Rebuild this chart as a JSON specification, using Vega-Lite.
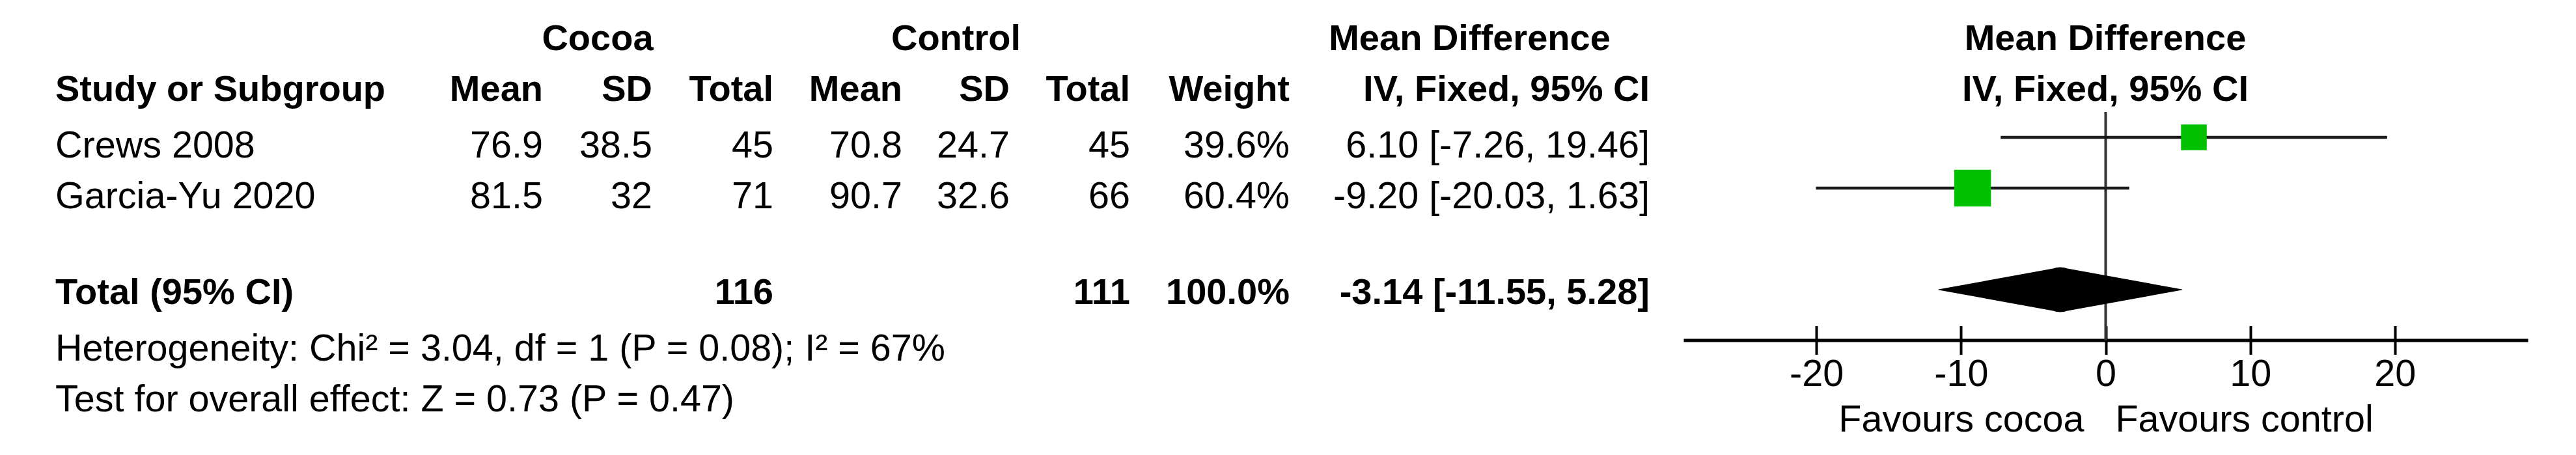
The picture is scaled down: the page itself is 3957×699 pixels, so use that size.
{
  "$schema": "https://vega.github.io/schema/vega-lite/v6.json",
  "width": 3957,
  "height": 699,
  "padding": 0,
  "autosize": {"type": "none"},
  "background": "white",
  "config": {"view": {"stroke": null}, "font": "Liberation Sans"},
  "datasets": {
    "table": [
      {"row": 0, "col": 2.5, "text": "Cocoa"},
      {"row": 0, "col": 5.5, "text": "Control"},
      {"row": 0, "col": 8.5, "text": "Mean Difference"},
      {"row": 0, "col": 10, "text": "Mean Difference"},
      {"row": 1, "col": 1, "text": "Study or Subgroup"},
      {"row": 1, "col": 2, "text": "Mean"},
      {"row": 1, "col": 3, "text": "SD"},
      {"row": 1, "col": 4, "text": "Total"},
      {"row": 1, "col": 5, "text": "Mean"},
      {"row": 1, "col": 6, "text": "SD"},
      {"row": 1, "col": 7, "text": "Total"},
      {"row": 1, "col": 8, "text": "Weight"},
      {"row": 1, "col": 9, "text": "IV, Fixed, 95% CI"},
      {"row": 1, "col": 10, "text": "IV, Fixed, 95% CI"},
      {"row": 2, "col": 1, "text": "Crews 2008"},
      {"row": 2, "col": 2, "text": "76.9"},
      {"row": 2, "col": 3, "text": "38.5"},
      {"row": 2, "col": 4, "text": "45"},
      {"row": 2, "col": 5, "text": "70.8"},
      {"row": 2, "col": 6, "text": "24.7"},
      {"row": 2, "col": 7, "text": "45"},
      {"row": 2, "col": 8, "text": "39.6%"},
      {"row": 2, "col": 9, "text": "6.10 [-7.26, 19.46]"},
      {"row": 3, "col": 1, "text": "Garcia-Yu 2020"},
      {"row": 3, "col": 2, "text": "81.5"},
      {"row": 3, "col": 3, "text": "32"},
      {"row": 3, "col": 4, "text": "71"},
      {"row": 3, "col": 5, "text": "90.7"},
      {"row": 3, "col": 6, "text": "32.6"},
      {"row": 3, "col": 7, "text": "66"},
      {"row": 3, "col": 8, "text": "60.4%"},
      {"row": 3, "col": 9, "text": "-9.20 [-20.03, 1.63]"},
      {"row": 5, "col": 1, "text": "Total (95% CI)"},
      {"row": 5, "col": 4, "text": "116"},
      {"row": 5, "col": 7, "text": "111"},
      {"row": 5, "col": 8, "text": "100.0%"},
      {"row": 5, "col": 9, "text": "-3.14 [-11.55, 5.28]"},
      {"row": 6, "col": 1, "text": "Heterogeneity: Chi² = 3.04, df = 1 (P = 0.08); I² = 67%"},
      {"row": 7, "col": 1, "text": "Test for overall effect: Z = 0.73 (P = 0.47)"}
    ],
    "studies": [
      {"study": "Crews 2008", "row": 2, "est": 6.10, "lo": -7.26, "hi": 19.46, "weight": 39.6},
      {"study": "Garcia-Yu 2020", "row": 3, "est": -9.20, "lo": -20.03, "hi": 1.63, "weight": 60.4}
    ],
    "pooled": [
      {"x": -11.55, "row": 5, "peak": 0},
      {"x": -3.14, "row": 5, "peak": 1},
      {"x": 5.28, "row": 5, "peak": 0}
    ]
  },
  "layer": [
    {
      "data": {"name": "table"},
      "encoding": {
        "x": {
          "field": "col",
          "type": "quantitative",
          "scale": {
            "type": "linear",
            "domain": [0, 1, 2, 3, 4, 5, 6, 7, 8, 9, 10, 11],
            "range": [32, 85, 834, 1002, 1188, 1386, 1551, 1736, 1981, 2534, 3234, 3933],
            "nice": false,
            "zero": false
          },
          "axis": null
        },
        "y": {
          "field": "row",
          "type": "quantitative",
          "scale": {"domain": [0, 8], "range": [55, 679], "nice": false, "zero": false},
          "axis": null
        }
      },
      "layer": [
        {
          "transform": [{"filter": "(datum.row <= 1 || datum.row == 5) && datum.col == 1"}],
          "mark": {"type": "text", "align": "left", "baseline": "alphabetic", "fontWeight": "bold", "fontSize": 56, "dy": 21.5, "color": "black", "font": "Liberation Sans"},
          "encoding": {"text": {"field": "text"}}
        },
        {
          "transform": [{"filter": "(datum.row <= 1 || datum.row == 5) && datum.col >= 2 && datum.col <= 9 && datum.col % 1 == 0"}],
          "mark": {"type": "text", "align": "right", "baseline": "alphabetic", "fontWeight": "bold", "fontSize": 56, "dy": 21.5, "color": "black", "font": "Liberation Sans"},
          "encoding": {"text": {"field": "text"}}
        },
        {
          "transform": [{"filter": "(datum.row <= 1 || datum.row == 5) && (datum.col == 10 || datum.col % 1 != 0)"}],
          "mark": {"type": "text", "align": "center", "baseline": "alphabetic", "fontWeight": "bold", "fontSize": 56, "dy": 21.5, "color": "black", "font": "Liberation Sans"},
          "encoding": {"text": {"field": "text"}}
        },
        {
          "transform": [{"filter": "datum.row > 1 && datum.row != 5 && datum.col == 1"}],
          "mark": {"type": "text", "align": "left", "baseline": "alphabetic", "fontSize": 57.5, "dy": 31, "color": "black", "font": "Liberation Sans"},
          "encoding": {"text": {"field": "text"}}
        },
        {
          "transform": [{"filter": "datum.row > 1 && datum.row != 5 && datum.col > 1"}],
          "mark": {"type": "text", "align": "right", "baseline": "alphabetic", "fontSize": 57.5, "dy": 31, "color": "black", "font": "Liberation Sans"},
          "encoding": {"text": {"field": "text"}}
        },
        {
          "data": {"values": [{}]},
          "mark": {"type": "rule", "color": "black", "strokeWidth": 5},
          "encoding": {
            "x": {"datum": 0, "type": "quantitative"},
            "x2": {"datum": 11},
            "y": {"datum": 1.5, "type": "quantitative"}
          }
        }
      ]
    },
    {
      "layer": [
        {
          "data": {"values": [{}]},
          "mark": {"type": "rule", "color": "#333333", "strokeWidth": 4},
          "encoding": {
            "x": {
              "datum": 0,
              "type": "quantitative",
              "scale": {"domain": [-29.19, 29.19], "range": [2586, 3883], "nice": false, "zero": false},
              "axis": {
                "orient": "bottom",
                "offset": -198.5,
                "values": [-20, -10, 0, 10, 20],
                "domain": false,
                "ticks": true,
                "tickColor": "black",
                "tickWidth": 4,
                "tickSize": 22,
                "labels": false,
                "grid": false,
                "title": null
              }
            },
            "y": {
              "datum": 1.5,
              "type": "quantitative",
              "scale": {"domain": [0, 8], "range": [55, 679], "nice": false, "zero": false},
              "axis": null
            },
            "y2": {"datum": 6}
          }
        },
        {
          "data": {"name": "studies"},
          "mark": {"type": "rule", "color": "#1a1a1a", "strokeWidth": 4.5},
          "encoding": {
            "x": {
              "field": "lo",
              "type": "quantitative",
              "axis": {
                "orient": "bottom",
                "offset": -176.5,
                "values": [-20, -10, 0, 10, 20],
                "domain": true,
                "domainColor": "black",
                "domainWidth": 5,
                "ticks": true,
                "tickColor": "black",
                "tickWidth": 4,
                "tickSize": 22,
                "labels": true,
                "labelExpr": "'' + datum.value",
                "labelFont": "Liberation Sans",
                "labelFontSize": 57.5,
                "labelColor": "black",
                "labelPadding": 3,
                "labelFlush": false,
                "labelOverlap": false,
                "grid": false,
                "title": "Favours cocoa\u00a0\u00a0\u00a0Favours control",
                "titleFont": "Liberation Sans",
                "titleFontSize": 57.5,
                "titleFontWeight": "normal",
                "titleColor": "black",
                "titleBaseline": "alphabetic",
                "titleY": 139.5
              }
            },
            "x2": {"field": "hi"},
            "y": {"field": "row", "type": "quantitative", "axis": null}
          }
        },
        {
          "data": {"name": "studies"},
          "mark": {"type": "square", "color": "#00c000", "opacity": 1, "filled": true},
          "encoding": {
            "x": {"field": "est", "type": "quantitative", "axis": null},
            "y": {"field": "row", "type": "quantitative", "axis": null},
            "size": {"field": "weight", "type": "quantitative", "scale": {"domain": [39.6, 60.4], "range": [1560, 3192]}, "legend": null}
          }
        },
        {
          "data": {"name": "pooled"},
          "mark": {"type": "trail", "color": "black"},
          "encoding": {
            "x": {"field": "x", "type": "quantitative", "axis": null},
            "y": {"field": "row", "type": "quantitative", "axis": null},
            "size": {"field": "peak", "type": "quantitative", "scale": {"domain": [0, 1], "range": [0, 69]}, "legend": null}
          }
        }
      ],
      "resolve": {"axis": {"x": "independent"}, "scale": {"size": "independent"}}
    }
  ],
  "resolve": {"scale": {"x": "independent"}}
}
